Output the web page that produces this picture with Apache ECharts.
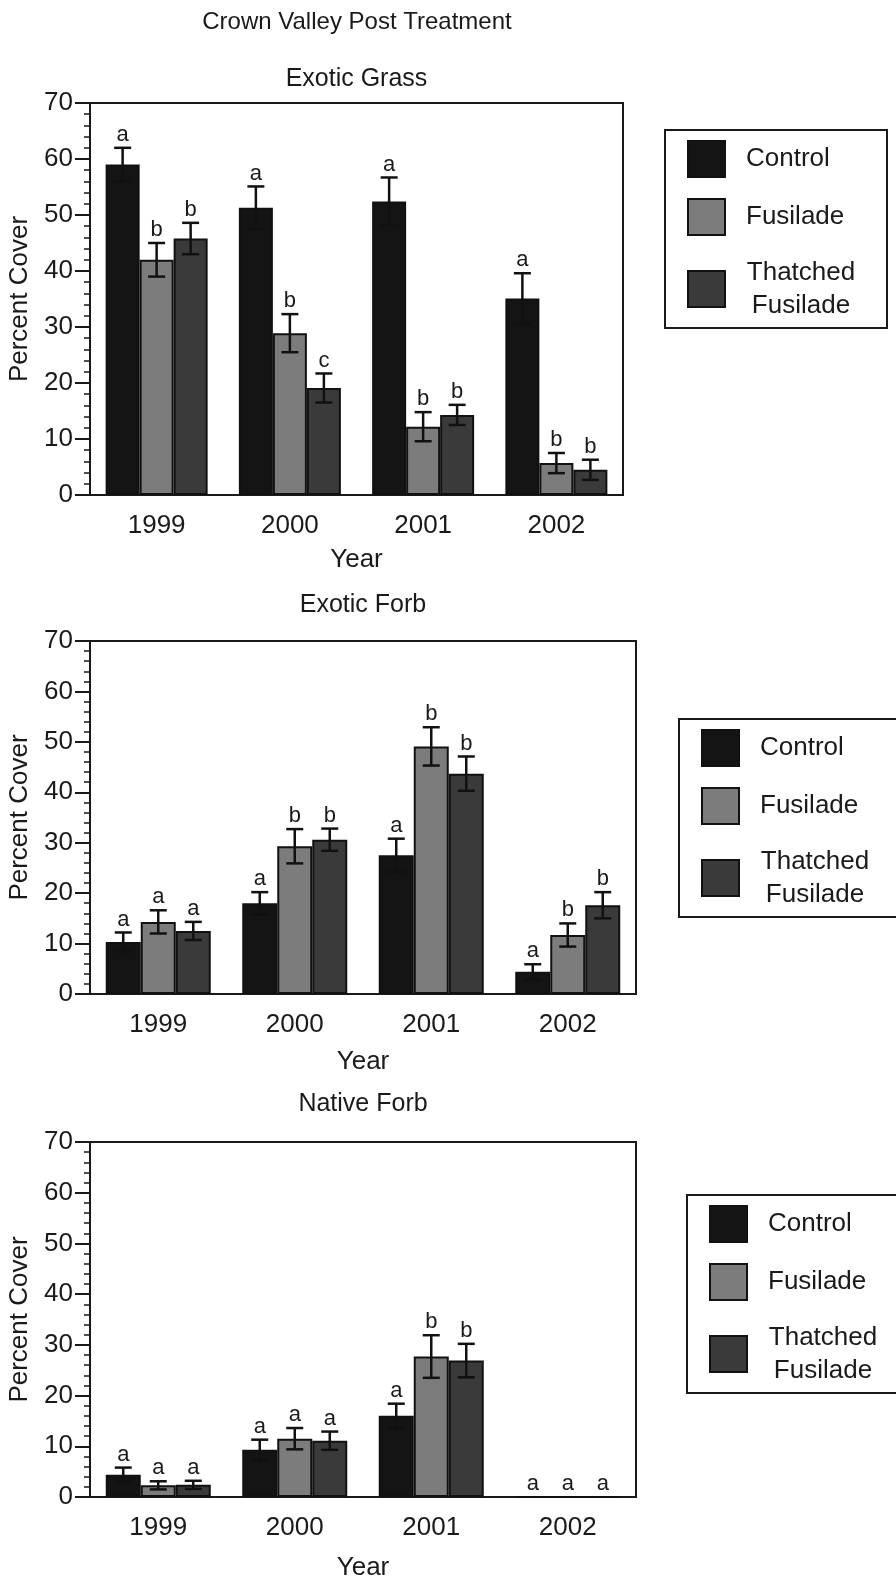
<!DOCTYPE html>
<html>
<head>
<meta charset="utf-8">
<script src="https://cdn.jsdelivr.net/npm/echarts@6/dist/echarts.min.js"></script>
<style>
html, body { margin: 0; padding: 0; background: #fff; }
#main { width: 896px; height: 1576px; }
</style>
</head>
<body>
<div id="main"></div>
<script>
// categories / names
const years = ['1999', '2000', '2001', '2002']
const treatments = ['Control', 'Fusilade', 'Thatched Fusilade']
const panelTitles = ['Exotic Grass', 'Exotic Forb', 'Native Forb']
const mainTitle = 'Crown Valley Post Treatment'

// Exotic Grass
const grassControl = [59.0, 51.3, 52.4, 35.1]
const grassControlErr = [3.0, 3.8, 4.3, 4.5]
const grassFusilade = [42.0, 28.9, 12.2, 5.7]
const grassFusiladeErr = [3.0, 3.4, 2.6, 1.8]
const grassThatched = [45.8, 19.1, 14.3, 4.5]
const grassThatchedErr = [2.8, 2.6, 1.8, 1.8]
const grassLetters = [['a', 'a', 'a', 'a'], ['b', 'b', 'b', 'b'], ['b', 'c', 'b', 'b']]

// Exotic Forb
const forbControl = [10.3, 18.0, 27.5, 4.4]
const forbControlErr = [1.9, 2.2, 3.3, 1.5]
const forbFusilade = [14.3, 29.3, 49.1, 11.7]
const forbFusiladeErr = [2.3, 3.4, 3.8, 2.3]
const forbThatched = [12.5, 30.6, 43.7, 17.6]
const forbThatchedErr = [1.8, 2.2, 3.4, 2.6]
const forbLetters = [['a', 'a', 'a', 'a'], ['a', 'b', 'b', 'b'], ['a', 'b', 'b', 'b']]

// Native Forb
const nativeControl = [4.4, 9.3, 16.0, 0]
const nativeControlErr = [1.4, 2.0, 2.4, 0]
const nativeFusilade = [2.3, 11.5, 27.7, 0]
const nativeFusiladeErr = [0.8, 2.1, 4.2, 0]
const nativeThatched = [2.4, 11.1, 26.9, 0]
const nativeThatchedErr = [0.8, 1.8, 3.3, 0]
const nativeLetters = [['a', 'a', 'a', 'a'], ['a', 'a', 'b', 'a'], ['a', 'a', 'b', 'a']]

const panelValues = [
    [grassControl, grassFusilade, grassThatched],
    [forbControl, forbFusilade, forbThatched],
    [nativeControl, nativeFusilade, nativeThatched]
]
const panelErrors = [
    [grassControlErr, grassFusiladeErr, grassThatchedErr],
    [forbControlErr, forbFusiladeErr, forbThatchedErr],
    [nativeControlErr, nativeFusiladeErr, nativeThatchedErr]
]
const panelLetters = [grassLetters, forbLetters, nativeLetters]

const barColors = ['#141414', '#7c7c7c', '#3a3a3a']
const ink = '#1a1a1a'
const font = 'Liberation Sans, Arial, sans-serif'

// layout of each panel
const grids = [
    { left: 90, top: 103, width: 533, height: 392 },
    { left: 90, top: 641, width: 546, height: 353 },
    { left: 90, top: 1142, width: 546, height: 355 }
]
const barWidths = [34, 35, 35]
const titleTops = [67, 593, 1092]
const legendPos = [[665, 130], [679, 719], [687, 1195]]
const yearGaps = [52, 55, 58]

let myChart = echarts.init(document.getElementById('main'))

let titles = [{
    text: mainTitle,
    left: 357, top: 10, padding: 0, textAlign: 'center',
    textStyle: { fontFamily: font, fontSize: 24, fontWeight: 'normal', color: ink }
}]
let xAxes = [], yAxes = [], legends = [], series = []

grids.forEach(function (g, p) {
    titles.push({
        text: panelTitles[p],
        left: g.left + g.width / 2, top: titleTops[p], padding: 0, textAlign: 'center',
        textStyle: { fontFamily: font, fontSize: 25, fontWeight: 'normal', color: ink }
    })
    xAxes.push({
        type: 'category', gridIndex: p, data: years,
        name: 'Year', nameLocation: 'middle', nameGap: yearGaps[p],
        nameTextStyle: { fontFamily: font, fontSize: 26, color: ink },
        axisLine: { lineStyle: { color: ink, width: 2 } },
        axisTick: { length: 15, lineStyle: { color: ink, width: 2 } },
        axisLabel: { fontFamily: font, fontSize: 26, color: ink, margin: 18 }
    })
    yAxes.push({
        type: 'value', gridIndex: p, min: 0, max: 70, interval: 10,
        name: 'Percent Cover', nameLocation: 'middle', nameGap: 54,
        nameTextStyle: { fontFamily: font, fontSize: 26, color: ink },
        axisLine: { show: true, lineStyle: { color: ink, width: 2 } },
        axisTick: { show: true, length: 15, lineStyle: { color: ink, width: 2 } },
        minorTick: { show: true, splitNumber: 5, length: 6, lineStyle: { color: ink, width: 1.5 } },
        splitLine: { show: false },
        axisLabel: { fontFamily: font, fontSize: 26, color: ink, margin: 17 }
    })
    legends.push({
        orient: 'vertical', left: legendPos[p][0], top: legendPos[p][1],
        padding: [10, 31, 6, 22], itemGap: 20, itemWidth: 37, itemHeight: 36,
        borderColor: ink, borderWidth: 2, icon: 'rect', selectedMode: false,
        data: treatments,
        formatter: function (name) {
            return name === 'Thatched Fusilade' ? '{c|Thatched}\n{c|Fusilade}' : name
        },
        textStyle: {
            fontFamily: font, fontSize: 26, lineHeight: 33, color: ink, padding: [0, 0, 0, 16],
            rich: { c: { fontFamily: font, fontSize: 26, lineHeight: 33, width: 110, align: 'center', color: ink } }
        }
    })

    // bars
    treatments.forEach(function (name, k) {
        series.push({
            name: name, type: 'bar', xAxisIndex: p, yAxisIndex: p,
            barWidth: barWidths[p], barGap: '0%',
            itemStyle: { color: barColors[k], borderColor: '#111', borderWidth: 2 },
            emphasis: { disabled: true },
            data: panelValues[p][k]
        })
    })

    // error bars + letters
    let errData = [], letterList = []
    treatments.forEach(function (name, k) {
        years.forEach(function (y, i) {
            errData.push([i, k, panelValues[p][k][i], panelErrors[p][k][i]])
            letterList.push(panelLetters[p][k][i])
        })
    })
    const bw = barWidths[p]
    series.push({
        type: 'custom', xAxisIndex: p, yAxisIndex: p, z: 10,
        encode: { x: 0, y: 2 },
        data: errData,
        renderItem: function (params, api) {
            const i = api.value(0), k = api.value(1), v = api.value(2), e = api.value(3)
            const x = api.coord([i, 0])[0] + (k - 1) * bw
            const yTop = api.coord([i, v + e])[1]
            const yBot = api.coord([i, v - e])[1]
            const st = { stroke: '#111', lineWidth: 2.5 }
            let children = []
            if (e > 0) {
                children.push({ type: 'line', shape: { x1: x, y1: yTop, x2: x, y2: yBot }, style: st })
                children.push({ type: 'line', shape: { x1: x - 8.5, y1: yTop, x2: x + 8.5, y2: yTop }, style: st })
                children.push({ type: 'line', shape: { x1: x - 8.5, y1: yBot, x2: x + 8.5, y2: yBot }, style: st })
            }
            children.push({
                type: 'text', x: x, y: yTop - 2,
                style: {
                    text: letterList[params.dataIndex], fontFamily: font, fontSize: 22,
                    fill: ink, align: 'center', verticalAlign: 'bottom'
                }
            })
            return { type: 'group', children: children }
        }
    })
})

let option = {
    backgroundColor: '#fff',
    animation: false,
    title: titles,
    grid: grids.map(function (g) {
        return Object.assign({ show: true, borderColor: ink, borderWidth: 2, outerBoundsMode: 'none' }, g)
    }),
    xAxis: xAxes,
    yAxis: yAxes,
    legend: legends,
    series: series
}

myChart.setOption(option)
</script>
</body>
</html>
